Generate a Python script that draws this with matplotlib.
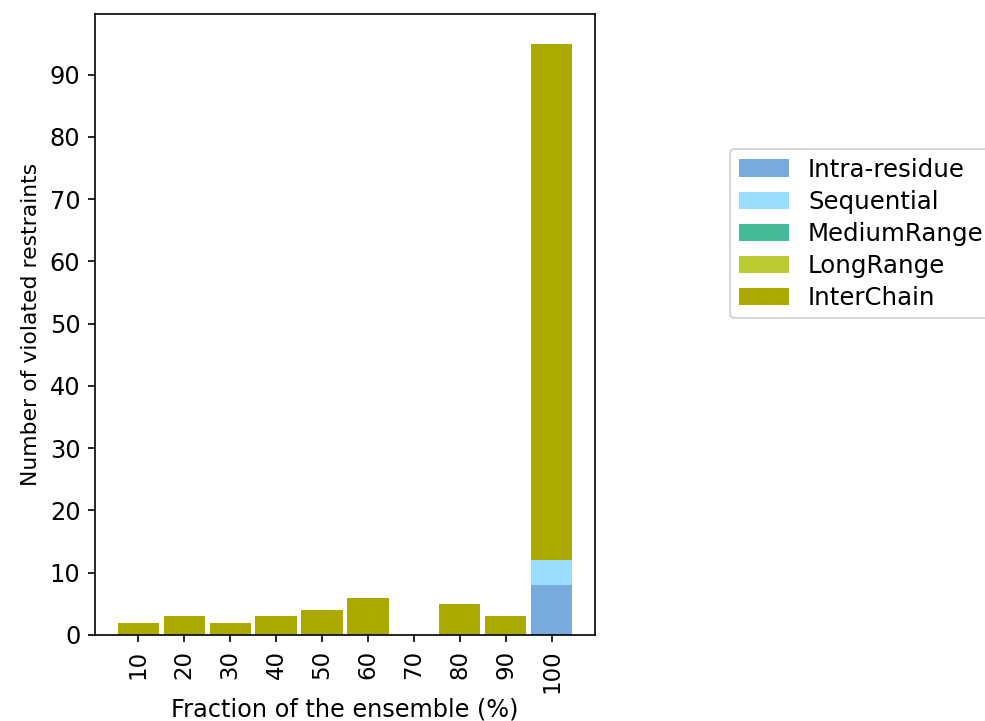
import matplotlib
matplotlib.use("Agg")
import matplotlib.pyplot as plt
from matplotlib.ticker import MultipleLocator
import numpy as np

categories = ["10", "20", "30", "40", "50", "60", "70", "80", "90", "100"]
intra_residue = [0, 0, 0, 0, 0, 0, 0, 0, 0, 8]
sequential = [0, 0, 0, 0, 0, 0, 0, 0, 0, 4]
medium_range = [0, 0, 0, 0, 0, 0, 0, 0, 0, 0]
long_range = [0, 0, 0, 0, 0, 0, 0, 0, 0, 0]
inter_chain = [2, 3, 2, 3, 4, 6, 0, 5, 3, 83]

series = [
    ("Intra-residue", intra_residue, "#77AADD"),
    ("Sequential", sequential, "#99DDFF"),
    ("MediumRange", medium_range, "#44BB99"),
    ("LongRange", long_range, "#BBCC33"),
    ("InterChain", inter_chain, "#AAAA00"),
]

plt.rcParams["font.size"] = 11.5
fig = plt.figure(figsize=(985 / 150, 721 / 150), dpi=150)
ax = fig.add_axes([95 / 985, 86 / 721, 500 / 985, 621 / 721])
x = np.arange(len(categories))
bottom = np.zeros(len(categories))
for name, vals, col in series:
    vals = np.array(vals, dtype=float)
    ax.bar(x, vals, width=0.9, bottom=bottom, color=col, label=name)
    bottom += vals

ax.yaxis.set_major_locator(MultipleLocator(10))
ax.set_xticks(x)
ax.set_xticklabels(categories, rotation=90, fontsize=11)
ax.set_xlabel("Fraction of the ensemble (%)", labelpad=2)
ax.set_ylabel("Number of violated restraints", fontsize=10.5)
fig.legend(loc="upper left", bbox_to_anchor=(730 / 985, 1 - 149 / 721),
           borderaxespad=0, labelspacing=0.33, fontsize=11.7,
           handlelength=2.05, handletextpad=0.8, borderpad=0.35)
fig.savefig("out.png", dpi=150)
